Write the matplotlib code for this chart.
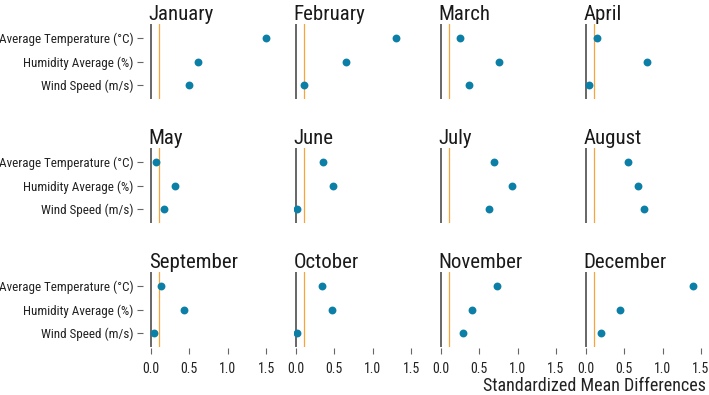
import matplotlib
matplotlib.use("Agg")
import matplotlib.pyplot as plt
from matplotlib import font_manager

# pick a narrow face if one is around
names = set(f.name for f in font_manager.fontManager.ttflist)
font = "Roboto"
for cand in ["Roboto Condensed", "Liberation Sans Narrow", "DejaVu Sans Condensed"]:
    if cand in names:
        font = cand
        break
plt.rcParams["font.family"] = [font, "DejaVu Sans"]

months = ["January", "February", "March", "April", "May", "June",
          "July", "August", "September", "October", "November", "December"]
variables = ["Average Temperature (°C)", "Humidity Average (%)", "Wind Speed (m/s)"]

temperature = [1.50, 1.30, 0.25, 0.15, 0.07, 0.35, 0.69, 0.55, 0.13, 0.335, 0.735, 1.40]
humidity = [0.61, 0.65, 0.76, 0.80, 0.31, 0.48, 0.92, 0.68, 0.43, 0.465, 0.40, 0.45]
wind = [0.49, 0.10, 0.37, 0.04, 0.17, 0.01, 0.63, 0.75, 0.04, 0.01, 0.29, 0.19]

threshold = 0.1
xticks = [0.0, 0.5, 1.0, 1.5]

fig, axes = plt.subplots(3, 4, figsize=(7.09, 3.95), dpi=100)
fig.subplots_adjust(left=0.2097, right=0.9942, top=0.9392, bottom=0.1215,
                    wspace=0.196, hspace=0.653)

for i, ax in enumerate(axes.flat):
    vals = [temperature[i], humidity[i], wind[i]]
    ax.axvline(0, color="#5a5a5a", lw=1.3, zorder=1)
    ax.axvline(threshold, color="#f7a43a", lw=0.9, zorder=1)
    ax.scatter(vals, range(3), s=32, color="#0b7fa6", zorder=3, linewidths=0)
    ax.set_xlim(-0.03, 1.55)
    ax.set_ylim(2.6, -0.6)
    ax.set_title(months[i], loc="left", fontsize=15, pad=2, color="#1a1a1a")
    for s in ax.spines.values():
        s.set_visible(False)
    ax.spines["left"].set_position(("outward", 4))
    ax.spines["bottom"].set_position(("outward", 1))
    ax.set_yticks(range(3))
    ax.set_xticks(xticks)
    row, col = divmod(i, 4)
    if col == 0:
        ax.set_yticklabels(variables)
        ax.tick_params(axis="y", length=4, width=0.8, color="#666666",
                       labelsize=9.4, pad=3, labelcolor="#222222")
    else:
        ax.tick_params(axis="y", left=False, labelleft=False)
    if row == 2:
        ax.set_xticklabels([f"{t:.1f}" for t in xticks])
        ax.tick_params(axis="x", length=4, width=0.8, color="#666666",
                       labelsize=10, pad=6, labelcolor="#222222")
    else:
        ax.tick_params(axis="x", bottom=False, labelbottom=False)

fig.text(0.995, 0.0, "Standardized Mean Differences", ha="right", va="bottom",
         fontsize=13, color="#222222")

fig.savefig("out.png", dpi=100)
